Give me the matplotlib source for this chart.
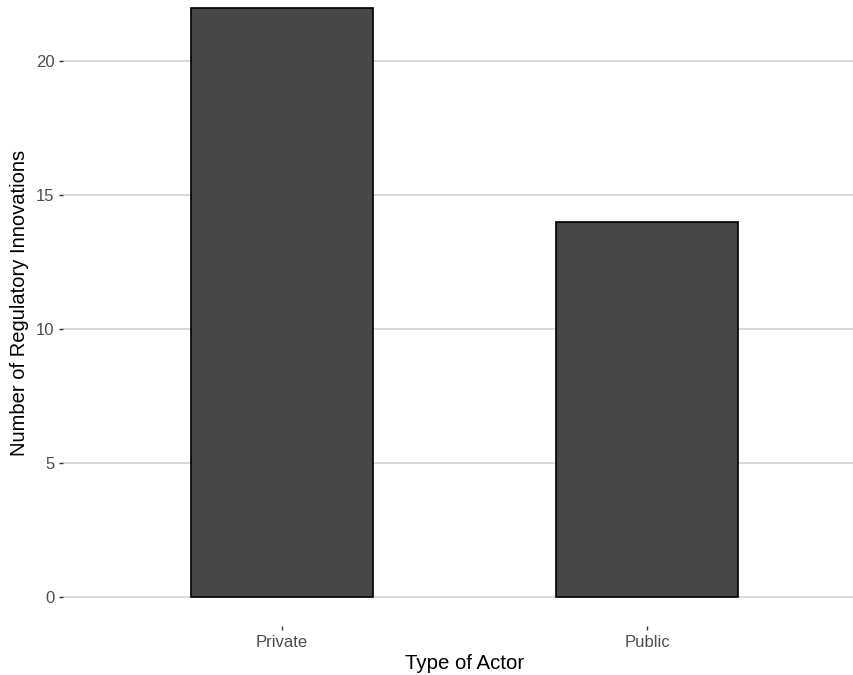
import matplotlib
matplotlib.use('Agg')

import matplotlib.pyplot as plt

actors = ['Private', 'Public']
counts = [22, 14]
y_ticks = [0, 5, 10, 15, 20]

plt.rcParams['font.family'] = ['Liberation Sans', 'DejaVu Sans']

W, H = 854, 675
# panel box in pixels (it runs a little past the right and top edges)
left, right, top, bottom = 63, 866, -21.5, 626.4

fig = plt.figure(figsize=(W / 100, H / 100), dpi=100)
ax = fig.add_axes([left / W, (H - bottom) / H, (right - left) / W, (bottom - top) / H])

x = list(range(1, len(actors) + 1))
ax.bar(x, counts, width=0.5, color='#474747', edgecolor='black', linewidth=1.2, zorder=3)

ax.set_xlim(0.4, 2.6)
ax.set_ylim(-1.1, 23.1)
ax.set_xticks(x)
ax.set_xticklabels(actors)
ax.set_yticks(y_ticks)

ax.grid(axis='y', color='#d0d0d0', linewidth=1.1, zorder=0)
for s in ax.spines.values():
    s.set_visible(False)

ax.tick_params(axis='both', colors='#333333', labelcolor='#4d4d4d', labelsize=12,
               length=3, width=1, pad=3)

ax.set_xlabel('Type of Actor', fontsize=14.7, labelpad=3)
ax.set_ylabel('Number of Regulatory Innovations', fontsize=14.5, labelpad=5)

fig.savefig('out.png', dpi=100)
plt.close(fig)
